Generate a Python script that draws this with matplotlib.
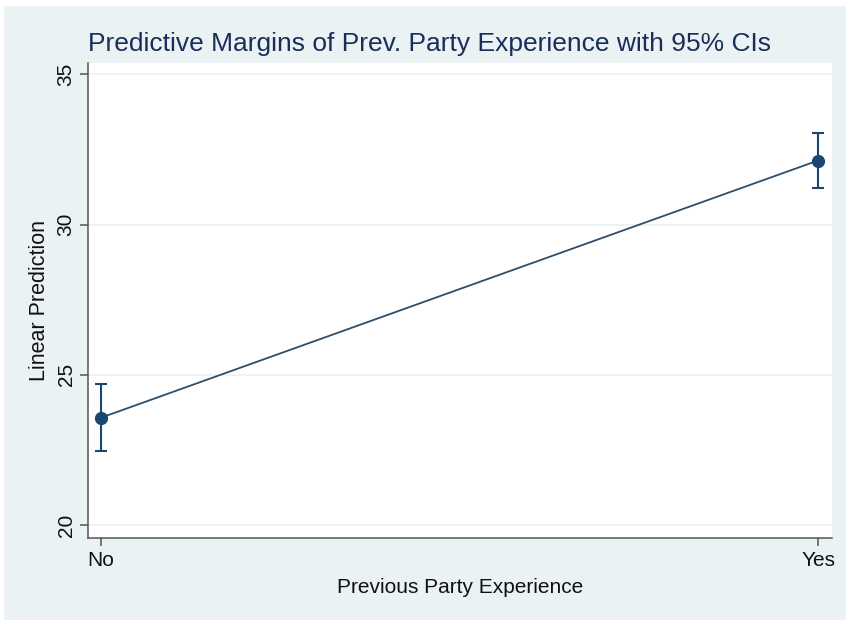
import matplotlib
matplotlib.use("Agg")
import matplotlib.pyplot as plt
from matplotlib.patches import Rectangle

categories = ["No", "Yes"]
margins = [23.57, 32.13]
ci_low = [22.47, 31.22]
ci_high = [24.68, 33.05]
yticks = [20, 25, 30, 35]

plt.rcParams['font.family'] = ['Liberation Sans', 'DejaVu Sans']

W, H = 846, 620
fig = plt.figure(figsize=(W / 100, H / 100), dpi=100, facecolor="#eaf2f3")
# thin white strips on top and left like the reference
fig.patches.append(Rectangle((0, 1 - 6 / H), 1, 6 / H, transform=fig.transFigure,
                             facecolor="white", edgecolor="none", zorder=0))
fig.patches.append(Rectangle((0, 0), 4 / W, 1, transform=fig.transFigure,
                             facecolor="white", edgecolor="none", zorder=0))

left, right, top, bottom = 88, 832, 63, 538
ax = fig.add_axes([left / W, 1 - bottom / H, (right - left) / W, (bottom - top) / H])
ax.set_facecolor("white")

x = list(range(len(categories)))
navy = "#1a476f"
yerr = [[m - l for m, l in zip(margins, ci_low)], [h - m for m, h in zip(margins, ci_high)]]
ax.plot(x, margins, color="#2d4f6c", lw=1.3, zorder=3)
ax.errorbar(x, margins, yerr=yerr, fmt="o", color=navy, ms=8.5, elinewidth=1.5,
            capsize=4.5, capthick=1.5, zorder=4)

ax.set_xlim(-0.018, 1.0195)
ax.set_ylim(19.567, 35.376)
ax.set_xticks(x)
ax.set_xticklabels(categories, fontsize=15)
ax.set_yticks(yticks)
ax.set_yticklabels([str(t) for t in yticks], fontsize=15, rotation=90, va="center")
for t in yticks:
    ax.axhline(t, color="#eaf2f3", lw=1.2, zorder=1)

for s in ["top", "right"]:
    ax.spines[s].set_visible(False)
for s in ["left", "bottom"]:
    ax.spines[s].set_color("#555555")
    ax.spines[s].set_linewidth(1.1)
ax.tick_params(axis="both", color="#555555", length=6, width=1.1, pad=3, labelcolor="#111111")

ax.set_xlabel("Previous Party Experience", fontsize=15, labelpad=6, color="#111111")
ax.set_ylabel("Linear Prediction", fontsize=15.5, labelpad=5, color="#111111")
ax.set_title("Predictive Margins of Prev. Party Experience with 95% CIs", loc="left",
             fontsize=19, color="#1a2e5a", pad=9)

fig.savefig("out.png", dpi=100, facecolor=fig.get_facecolor())
